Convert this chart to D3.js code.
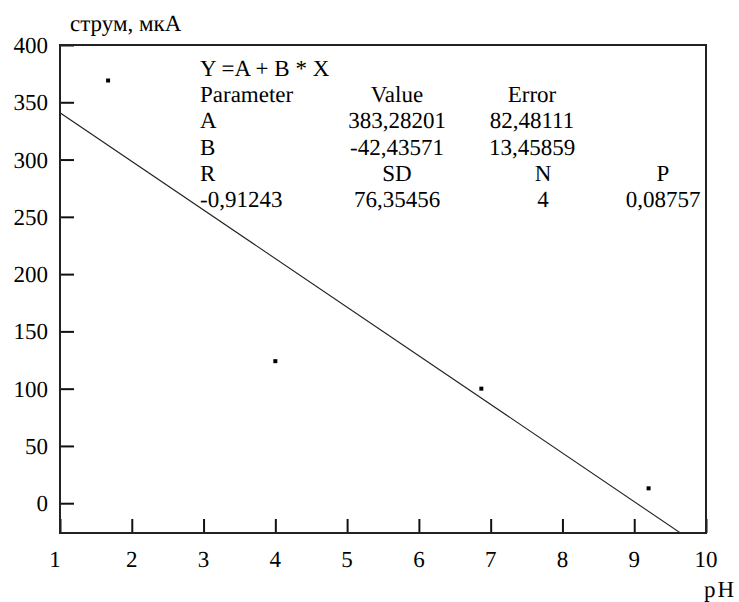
<!DOCTYPE html>
<html>
<head>
<meta charset="utf-8">
<script src="https://cdn.jsdelivr.net/npm/d3@7"></script>
<style>
  body { margin: 0; background: #fff; font-family: "Liberation Serif", "Times New Roman", serif; }
  svg, svg text { font-family: "Liberation Serif", "Times New Roman", serif !important; }
</style>
</head>
<body>
<div id="chart"></div>
<script>
(function () {
  'use strict';

  // measured points (pH, current)
  var phValues = [1.67, 4.0, 6.87, 9.2];
  var currentValues = [369, 124, 100, 13];

  // linear fit parameters from the fit report
  var fitA = 383.28201, fitB = -42.43571;

  var xTicks = [1, 2, 3, 4, 5, 6, 7, 8, 9, 10];
  var yTicks = [0, 50, 100, 150, 200, 250, 300, 350, 400];

  var reportRows = [
    ['Y =A + B * X'],
    ['Parameter', 'Value', 'Error'],
    ['A', '383,28201', '82,48111'],
    ['B', '-42,43571', '13,45859'],
    ['R', 'SD', 'N', 'P'],
    ['-0,91243', '76,35456', '4', '0,08757']
  ];

  var width = 739, height = 602,
    left = 60, right = 706, top = 45, bottom = 533,
    tickLen = 14,
    fs = 23;

  var svg = d3.select('#chart').append('svg')
    .attr('width', width)
    .attr('height', height)
    .attr('text-rendering', 'geometricPrecision');

  var x = d3.scaleLinear().domain([1, 10]).range([left, right]);
  var y = d3.scaleLinear().domain([-26, 400]).range([bottom, top]);

  svg.append('defs').append('clipPath')
    .attr('id', 'plot-clip')
    .append('rect')
    .attr('x', left).attr('y', top)
    .attr('width', right - left).attr('height', bottom - top);

  // fitted line
  var lineX = [1, 10];
  svg.append('path')
    .attr('clip-path', 'url(#plot-clip)')
    .attr('d', d3.line()
      .x(function (d) { return x(d); })
      .y(function (d) { return y(fitA + fitB * d); })(lineX))
    .attr('fill', 'none')
    .attr('stroke', '#222')
    .attr('stroke-width', 1.1);

  // points
  svg.selectAll('.pt')
    .data(phValues)
    .enter()
    .append('rect')
    .attr('class', 'pt')
    .attr('x', function (d) { return x(d) - 2; })
    .attr('y', function (d, i) { return y(currentValues[i]) - 2; })
    .attr('width', 4)
    .attr('height', 4)
    .attr('fill', '#000');

  // axes with inward ticks
  var xAxis = svg.append('g')
    .attr('transform', 'translate(0,' + bottom + ')')
    .call(d3.axisTop(x).tickValues(xTicks).tickSize(tickLen).tickFormat(''));
  xAxis.select('.domain').remove();

  var yAxis = svg.append('g')
    .attr('transform', 'translate(' + left + ',0)')
    .call(d3.axisRight(y).tickValues(yTicks).tickSize(tickLen).tickFormat(''));
  yAxis.select('.domain').remove();

  svg.selectAll('.tick line').attr('stroke', '#111').attr('stroke-width', 2);

  svg.append('rect')
    .attr('x', left).attr('y', top)
    .attr('width', right - left).attr('height', bottom - top)
    .attr('fill', 'none')
    .attr('stroke', '#222')
    .attr('stroke-width', 2);

  var labels = svg.append('g').attr('class', 'labels');

  // tick labels
  labels.selectAll('.xlab')
    .data(xTicks)
    .enter()
    .append('text')
    .attr('class', 'xlab')
    .attr('x', function (d) { return x(d) - (d === 1 ? 5 : 0); })
    .attr('y', 567)
    .attr('text-anchor', 'middle')
    .text(function (d) { return d; });

  labels.selectAll('.ylab')
    .data(yTicks)
    .enter()
    .append('text')
    .attr('class', 'ylab')
    .attr('x', 48)
    .attr('y', function (d) { return y(d) + 8; })
    .attr('text-anchor', 'end')
    .text(function (d) { return d; });

  labels.append('text')
    .attr('x', 70).attr('y', 31)
    .text('струм, мкА');

  // fit report
  var colX = [200, 397, 532, 663];
  reportRows.forEach(function (row, r) {
    labels.selectAll('.rep' + r)
      .data(row)
      .enter()
      .append('text')
      .attr('class', 'rep' + r)
      .attr('x', function (d, i) {
        if (r >= 4 && i === 2) { return 543; }
        return colX[i];
      })
      .attr('y', 76 + r * 26.2)
      .attr('text-anchor', function (d, i) { return i === 0 ? 'start' : 'middle'; })
      .text(function (d) { return d; });
  });

  labels.append('text')
    .attr('x', 736).attr('y', 597)
    .attr('text-anchor', 'end')
    .style('letter-spacing', '2px')
    .text('pH');

  labels.selectAll('text')
    .attr('font-family', 'Liberation Serif')
    .style('font-size', fs + 'px')
    .style('fill', '#000');
}());
</script>
</body>
</html>
